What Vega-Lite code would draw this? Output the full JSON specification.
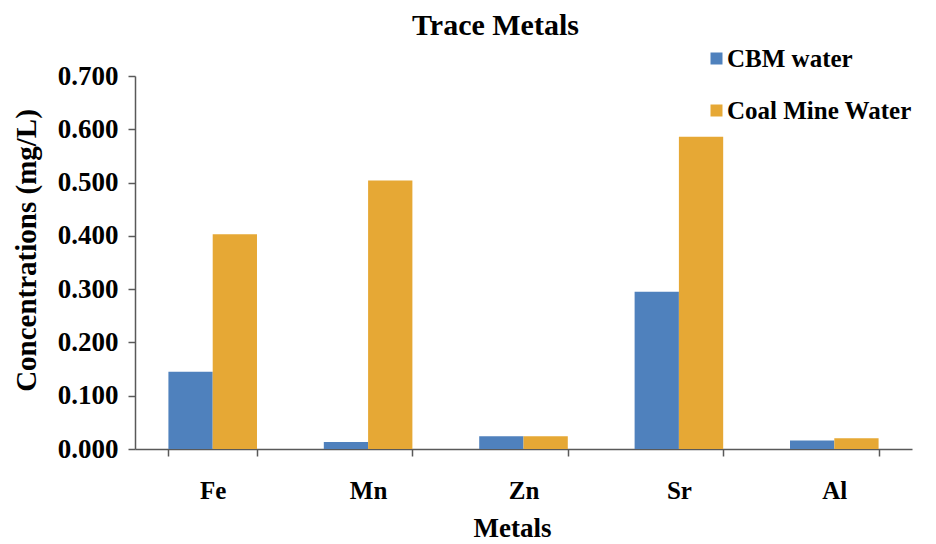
{
  "$schema": "https://vega.github.io/schema/vega-lite/v6.json",
  "width": 777,
  "height": 373,
  "autosize": {"type": "none"},
  "padding": {"left": 135, "top": 76, "right": 24, "bottom": 95},
  "background": "white",
  "title": {
    "text": "Trace Metals",
    "font": "Liberation Serif",
    "fontSize": 30,
    "fontWeight": "bold",
    "color": "black",
    "anchor": "middle",
    "frame": "group",
    "baseline": "alphabetic",
    "offset": 0,
    "dy": 19,
    "dx": -28
  },
  "data": {
    "values": [
      {"metal": "Fe", "series": "CBM water", "value": 0.145},
      {"metal": "Fe", "series": "Coal Mine Water", "value": 0.403},
      {"metal": "Mn", "series": "CBM water", "value": 0.013},
      {"metal": "Mn", "series": "Coal Mine Water", "value": 0.504},
      {"metal": "Zn", "series": "CBM water", "value": 0.024},
      {"metal": "Zn", "series": "Coal Mine Water", "value": 0.024},
      {"metal": "Sr", "series": "CBM water", "value": 0.295},
      {"metal": "Sr", "series": "Coal Mine Water", "value": 0.586},
      {"metal": "Al", "series": "CBM water", "value": 0.016},
      {"metal": "Al", "series": "Coal Mine Water", "value": 0.020}
    ]
  },
  "mark": {"type": "bar"},
  "encoding": {
    "x": {
      "field": "metal",
      "type": "nominal",
      "sort": ["Fe", "Mn", "Zn", "Sr", "Al"],
      "scale": {"paddingInner": 0.43, "paddingOuter": 0.215},
      "axis": {
        "title": "Metals",
        "labelAngle": 0,
        "tickBand": "extent",
        "labelPadding": 22,
        "titlePadding": 12,
        "titleX": 377
      }
    },
    "xOffset": {
      "field": "series",
      "type": "nominal",
      "sort": ["CBM water", "Coal Mine Water"]
    },
    "y": {
      "field": "value",
      "type": "quantitative",
      "scale": {"domain": [0, 0.7], "nice": false},
      "axis": {
        "title": "Concentrations (mg/L)",
        "values": [0, 0.1, 0.2, 0.3, 0.4, 0.5, 0.6, 0.7],
        "format": ".3f",
        "labelFontSize": 27,
        "labelPadding": 10,
        "titleFontSize": 29,
        "titlePadding": 16,
        "titleY": 174
      }
    },
    "color": {
      "field": "series",
      "type": "nominal",
      "sort": ["CBM water", "Coal Mine Water"],
      "scale": {
        "domain": ["CBM water", "Coal Mine Water"],
        "range": ["#4F81BD", "#E6A835"]
      },
      "legend": {
        "title": null,
        "orient": "none",
        "legendX": 569,
        "legendY": -30,
        "symbolType": "square",
        "symbolSize": 144,
        "symbolStrokeWidth": 0,
        "labelFont": "Liberation Serif",
        "labelFontSize": 25,
        "labelFontWeight": "bold",
        "labelColor": "black",
        "labelOffset": -2,
        "labelLimit": 400,
        "rowPadding": 26,
        "padding": 0
      }
    }
  },
  "config": {
    "view": {"stroke": null},
    "axis": {
      "grid": false,
      "domainColor": "#595959",
      "domainWidth": 1.5,
      "tickColor": "#595959",
      "tickWidth": 1.5,
      "tickSize": 7,
      "labelFont": "Liberation Serif",
      "labelFontSize": 25,
      "labelFontWeight": "bold",
      "labelColor": "black",
      "titleFont": "Liberation Serif",
      "titleFontSize": 27,
      "titleFontWeight": "bold",
      "titleColor": "black"
    }
  }
}
